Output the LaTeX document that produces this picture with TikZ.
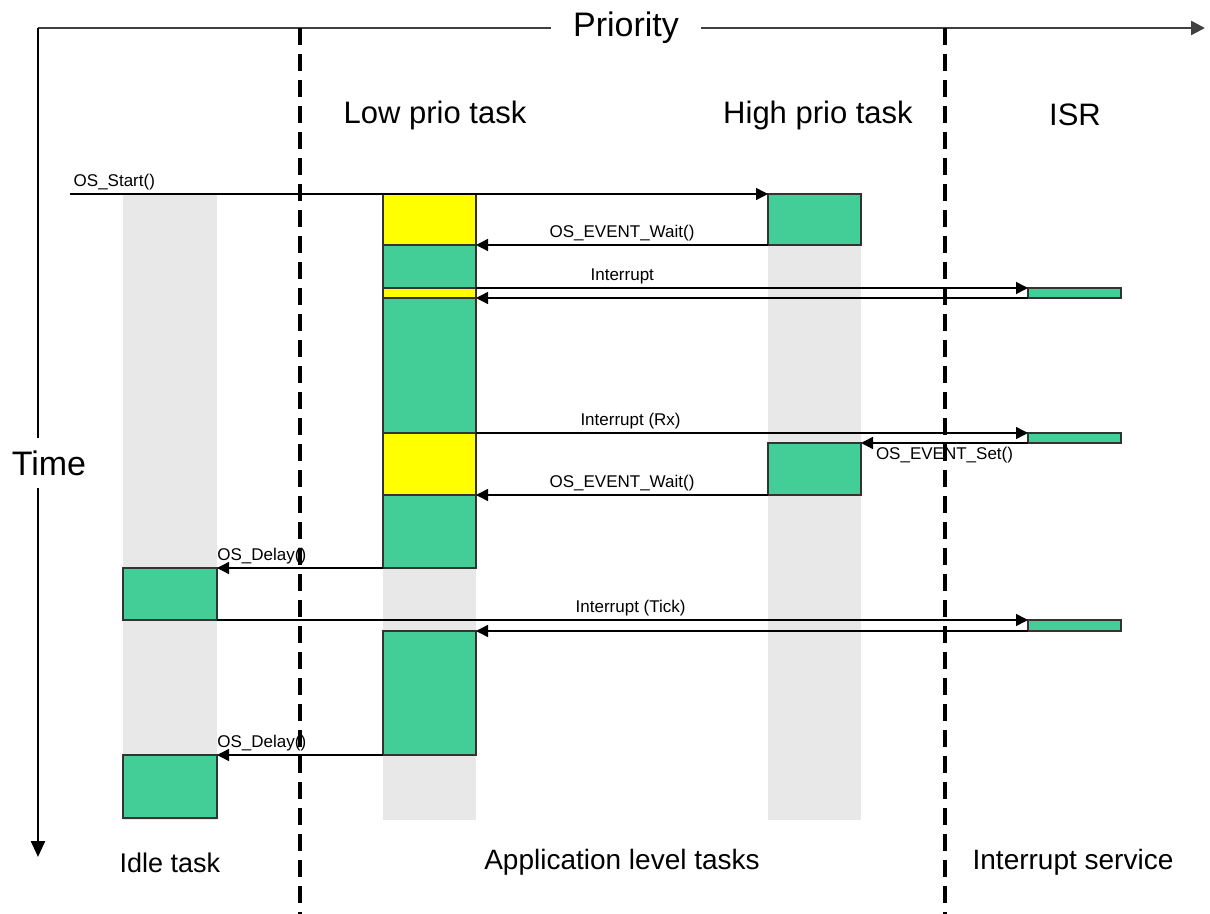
\documentclass[tikz,border=0pt]{standalone}
\usepackage{fontspec}
\setmainfont{Liberation Sans}
\usetikzlibrary{arrows.meta}
\definecolor{taskgreen}{RGB}{67,205,151}
\definecolor{taskyellow}{RGB}{255,255,0}
\definecolor{colgray}{RGB}{232,232,232}

\begin{document}
\begin{tikzpicture}[x=0.5pt,y=-0.5pt,
  run/.style={rectangle,draw=black!80,line width=0.6pt,inner sep=0pt,outer sep=0pt,anchor=north west,minimum width=46.5pt},
  msg/.style={-{Triangle[length=6pt,width=6pt]},line width=0.7pt},
  lbl/.style={font=\fontsize{8.5}{10}\selectfont,inner sep=1.5pt},
  head/.style={font=\fontsize{15.5}{18}\selectfont},
  foot/.style={font=\fontsize{14}{17}\selectfont},
  axis/.style={line width=1.2pt},
  sep/.style={line width=2pt,dash pattern=on 8.5pt off 4.5pt}]
\useasboundingbox (0,0) rectangle (1210,914);

\fill[colgray] (123,195) rectangle (217,820);
\fill[colgray] (383,195) rectangle (476,820);
\fill[colgray] (768,195) rectangle (861,820);

\coordinate (orig) at (38,28);
\coordinate (pend) at (1205,28);
\coordinate (tend) at (38,857);
\path (626,28) node[font=\fontsize{17}{20}\selectfont,inner xsep=11pt] (prio) {Priority};
\path (49,463) node[font=\fontsize{17}{20}\selectfont,inner ysep=6pt] (time) {Time};
\draw[axis,draw=black!75] (orig) -- (prio.west);
\draw[axis,draw=black!75,-{Triangle[length=7pt,width=7pt]}] (prio.east) -- (pend);
\draw[axis] (orig) -- (orig |- time.north);
\draw[axis,-{Triangle[length=8pt,width=7pt]}] (orig |- time.south) -- (tend);

\coordinate (sepA) at (300,28);
\coordinate (sepB) at (945,28);
\draw[sep] (sepA) -- (sepA |- 0,914);
\draw[sep] (sepB) -- (sepB |- 0,914);

\path (435,115) node[head] (low) {Low prio task};
\path (818,115) node[head] (high) {High prio task};
\path (1075,115) node[head] (isr) {ISR};
\path (170,863) node[foot,font=\fontsize{13.5}{16}\selectfont] (idle) {Idle task};
\path (622,862) node[foot] (app) {Application level tasks};
\path (1073,862) node[foot] (irqsvc) {Interrupt service};

\path (383,194) node[run,fill=taskyellow,minimum height=25.5pt] (lowY1) {};
\path (383,245) node[run,fill=taskgreen,minimum height=21.5pt] (lowG1) {};
\path (383,288) node[run,fill=taskyellow,minimum height=5pt] (lowY2) {};
\path (383,298) node[run,fill=taskgreen,minimum height=67.5pt] (lowG2) {};
\path (383,433) node[run,fill=taskyellow,minimum height=31pt] (lowY3) {};
\path (383,495) node[run,fill=taskgreen,minimum height=36.5pt] (lowG3) {};
\path (383,631) node[run,fill=taskgreen,minimum height=62pt] (lowG4) {};

\path (768,194) node[run,fill=taskgreen,minimum height=25.5pt] (high1) {};
\path (768,443) node[run,fill=taskgreen,minimum height=26pt] (high2) {};

\path (1028,288) node[run,fill=taskgreen,minimum height=5pt] (isr1) {};
\path (1028,433) node[run,fill=taskgreen,minimum height=5pt] (isr2) {};
\path (1028,620) node[run,fill=taskgreen,minimum height=5.5pt] (isr3) {};

\path (123,568) node[run,fill=taskgreen,minimum width=47pt,minimum height=26pt] (idle1) {};
\path (123,755) node[run,fill=taskgreen,minimum width=47pt,minimum height=31.5pt] (idle2) {};

\coordinate (start) at (70,194);
\draw[msg] (start) -- node[lbl,pos=0,above right]{OS\_Start()} (high1.north west);
\draw[msg] (high1.south west) -- node[lbl,above]{OS\_EVENT\_Wait()} (lowY1.south east);
\draw[msg] (lowG1.south east) -- node[lbl,above,pos=0.265]{Interrupt} (isr1.north west);
\draw[msg] (isr1.south west) -- (lowY2.south east);
\draw[msg] (lowG2.south east) -- node[lbl,above,pos=0.28]{Interrupt (Rx)} (isr2.north west);
\draw[msg] (isr2.south west) -- node[lbl,below,pos=0.5]{OS\_EVENT\_Set()} (high2.north east);
\draw[msg] (high2.south west) -- node[lbl,above]{OS\_EVENT\_Wait()} (lowY3.south east);
\draw[msg] (lowG3.south west) -- node[lbl,above,pos=0.73]{OS\_Delay()} (idle1.north east);
\draw[msg] (idle1.south east) -- node[lbl,above,pos=0.51]{Interrupt (Tick)} (isr3.north west);
\draw[msg] (isr3.south west) -- (lowG4.north east);
\draw[msg] (lowG4.south west) -- node[lbl,above,pos=0.73]{OS\_Delay()} (idle2.north east);
\end{tikzpicture}
\end{document}
